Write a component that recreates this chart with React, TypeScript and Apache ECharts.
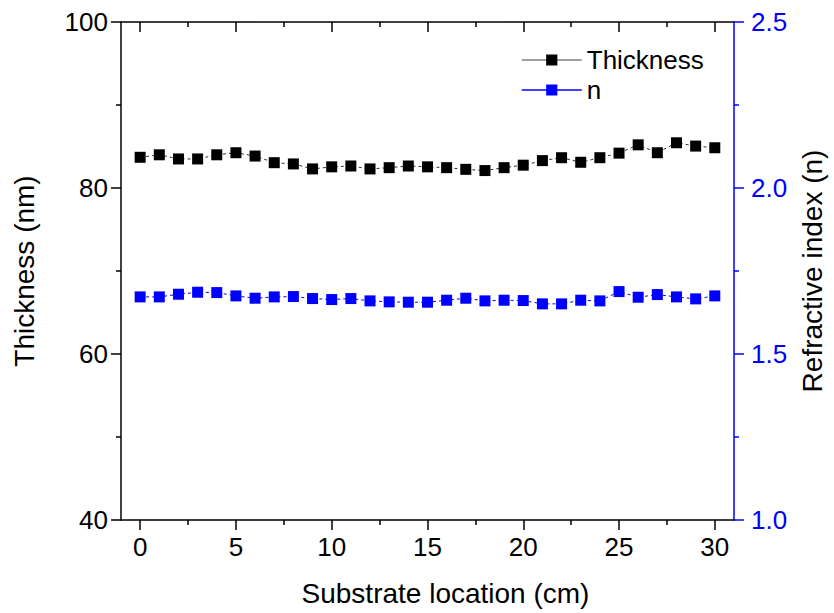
import React, { useEffect, useRef } from "react";
import * as echarts from "echarts";

const locations = [0, 1, 2, 3, 4, 5, 6, 7, 8, 9, 10, 11, 12, 13, 14, 15, 16, 17, 18, 19, 20, 21, 22, 23, 24, 25, 26, 27, 28, 29, 30];
const thickness = [83.7, 84.0, 83.5, 83.5, 84.0, 84.25, 83.85, 83.05, 82.9, 82.3, 82.55, 82.65, 82.3, 82.45, 82.65, 82.55, 82.45, 82.25, 82.1, 82.45, 82.75, 83.3, 83.65, 83.1, 83.65, 84.2, 85.2, 84.25, 85.45, 85.05, 84.85];
const refractive = [1.672, 1.672, 1.68, 1.686, 1.685, 1.675, 1.668, 1.672, 1.673, 1.667, 1.664, 1.667, 1.66, 1.657, 1.656, 1.656, 1.662, 1.668, 1.66, 1.662, 1.661, 1.651, 1.651, 1.662, 1.66, 1.688, 1.671, 1.679, 1.672, 1.666, 1.675];
const xMajor = [0, 5, 10, 15, 20, 25, 30];
const xMinor = [2.5, 7.5, 12.5, 17.5, 22.5, 27.5];

const FONT = "Liberation Sans, Arial, sans-serif";
const TICK_FONT = 26;
const TITLE_FONT = 28;

export default function App() {
  const ref = useRef<HTMLDivElement>(null);
  useEffect(() => {
    document.body.style.margin = "0";
    const chart = echarts.init(ref.current!, null, { renderer: "svg" });
    const black = "#000";
    const blue = "#0000ff";
    const baseX = {
      type: "value",
      min: -1,
      max: 31,
      splitLine: { show: false },
    };
    chart.setOption({
      animation: false,
      backgroundColor: "#fff",
      textStyle: { fontFamily: FONT },
      grid: { left: 121, right: 96, top: 22, height: 498 },
      legend: {
        orient: "vertical",
        left: 516,
        top: 42,
        itemWidth: 60,
        itemHeight: 14,
        itemGap: 4,
        textStyle: { fontSize: 26, color: black, fontFamily: FONT },
        lineStyle: { type: "solid", width: 1.5 },
        data: [
          { name: "Thickness", lineStyle: { color: "#808080", type: "solid" } },
          { name: "n", lineStyle: { color: blue, type: "solid" } },
        ],
      },
      xAxis: [
        {
          ...baseX,
          position: "bottom",
          name: "Substrate location (cm)",
          nameLocation: "middle",
          nameGap: 59,
          nameTextStyle: { fontSize: TITLE_FONT, color: black, fontFamily: FONT, padding: [0, 0, 0, 36] },
          axisLine: { show: true, onZero: false, lineStyle: { color: black, width: 1.5 } },
          axisTick: { show: true, inside: false, length: 10, customValues: xMajor, lineStyle: { color: black, width: 1.5 } },
          axisLabel: { show: true, customValues: xMajor, fontSize: TICK_FONT, color: black, margin: 14, fontFamily: FONT },
        },
        {
          ...baseX,
          position: "bottom",
          axisLine: { show: false, onZero: false },
          axisTick: { show: true, inside: false, length: 5, customValues: xMinor, lineStyle: { color: black, width: 1.5 } },
          axisLabel: { show: false },
        },
        {
          ...baseX,
          position: "top",
          axisLine: { show: true, onZero: false, lineStyle: { color: black, width: 1.5 } },
          axisTick: { show: true, inside: true, length: 10, customValues: xMajor, lineStyle: { color: black, width: 1.5 } },
          axisLabel: { show: false },
        },
        {
          ...baseX,
          position: "top",
          axisLine: { show: false, onZero: false },
          axisTick: { show: true, inside: true, length: 5, customValues: xMinor, lineStyle: { color: black, width: 1.5 } },
          axisLabel: { show: false },
        },
      ],
      yAxis: [
        {
          type: "value",
          position: "left",
          min: 40,
          max: 100,
          interval: 20,
          name: "Thickness (nm)",
          nameLocation: "middle",
          nameGap: 83,
          nameTextStyle: { fontSize: TITLE_FONT, color: black, fontFamily: FONT },
          splitLine: { show: false },
          axisLine: { show: true, onZero: false, lineStyle: { color: black, width: 1.5 } },
          axisTick: { show: true, inside: false, length: 10, lineStyle: { color: black, width: 1.5 } },
          minorTick: { show: true, splitNumber: 2, length: 5, lineStyle: { color: black, width: 1.5 } },
          axisLabel: { fontSize: TICK_FONT, color: black, margin: 13, fontFamily: FONT },
        },
        {
          type: "value",
          position: "right",
          min: 1.0,
          max: 2.5,
          interval: 0.5,
          name: "Refractive index (n)",
          nameLocation: "middle",
          nameGap: 63,
          nameTextStyle: { fontSize: TITLE_FONT, color: black, fontFamily: FONT },
          splitLine: { show: false },
          axisLine: { show: true, onZero: false, lineStyle: { color: blue, width: 1.5 } },
          axisTick: { show: true, inside: false, length: 10, lineStyle: { color: blue, width: 1.5 } },
          minorTick: { show: true, splitNumber: 2, length: 5, lineStyle: { color: blue, width: 1.5 } },
          axisLabel: { fontSize: TICK_FONT, color: blue, margin: 17, fontFamily: FONT, formatter: (v: number) => v.toFixed(1) },
        },
      ],
      series: [
        {
          name: "Thickness",
          type: "line",
          xAxisIndex: 0,
          yAxisIndex: 0,
          data: locations.map((x, i) => [x, thickness[i]]),
          symbol: "rect",
          symbolSize: 11,
          itemStyle: { color: black },
          lineStyle: { color: "#333", width: 1, type: [3, 3] },
          z: 3,
        },
        {
          name: "n",
          type: "line",
          xAxisIndex: 0,
          yAxisIndex: 1,
          data: locations.map((x, i) => [x, refractive[i]]),
          symbol: "rect",
          symbolSize: 11,
          itemStyle: { color: blue },
          lineStyle: { color: blue, width: 1, type: [3, 3] },
          z: 3,
        },
      ],
    });
    return () => chart.dispose();
  }, []);
  return <div ref={ref} style={{ width: 834, height: 613 }} />;
}
